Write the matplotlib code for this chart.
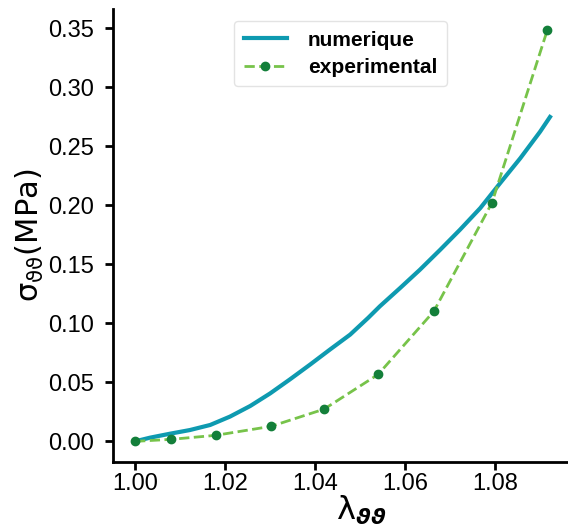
import matplotlib
matplotlib.use('Agg')
import matplotlib.pyplot as plt

# numerical curve
lam_num = [1.0000, 1.0033, 1.0078, 1.0122, 1.0167, 1.0211, 1.0256, 1.0300, 1.0344,
           1.0389, 1.0433, 1.0478, 1.0518, 1.0544, 1.0589, 1.0633, 1.0678, 1.0722,
           1.0767, 1.0811, 1.0856, 1.0900, 1.0922]
sig_num = [0.0, 0.0031, 0.0065, 0.0096, 0.0139, 0.0210, 0.0300, 0.0406, 0.0525,
           0.0651, 0.0778, 0.0905, 0.1047, 0.1145, 0.1300, 0.1455, 0.1624, 0.1794,
           0.1977, 0.2188, 0.2400, 0.2625, 0.2750]

# experimental points
lam_exp = [1.000, 1.0080, 1.0179, 1.0302, 1.0420, 1.0540, 1.0664, 1.0793, 1.0916]
sig_exp = [0.0, 0.0017, 0.0051, 0.0127, 0.0273, 0.0567, 0.1103, 0.2022, 0.3486]

xticks = [1.00, 1.02, 1.04, 1.06, 1.08]
yticks = [0.00, 0.05, 0.10, 0.15, 0.20, 0.25, 0.30, 0.35]

plt.rcParams['font.family'] = ['Liberation Sans', 'DejaVu Sans']
plt.rcParams['mathtext.fontset'] = 'dejavusans'

fig = plt.figure(figsize=(5.68, 5.30), dpi=100)
ax = fig.add_axes([113 / 568, 1 - 462 / 530, 455 / 568, 453 / 530])

ax.plot(lam_num, sig_num, color='#0e9ab0', lw=3, label='numerique')
ax.plot(lam_exp, sig_exp, color='#77c34a', lw=2, ls='--', marker='o',
        markersize=6, markerfacecolor='#137f3a', markeredgecolor='#137f3a',
        label='experimental')

ax.set_xlim(0.9951, 1.0962)
ax.set_ylim(-0.0175, 0.3665)
ax.set_xticks(xticks)
ax.set_xticklabels([f'{t:.2f}' for t in xticks])
ax.set_yticks(yticks)
ax.set_yticklabels([f'{t:.2f}' for t in yticks])

for s in ['top', 'right']:
    ax.spines[s].set_visible(False)
for s in ['left', 'bottom']:
    ax.spines[s].set_linewidth(2)
ax.tick_params(direction='out', length=6, width=2, labelsize=17)
ax.tick_params(axis='x', pad=2)
ax.tick_params(axis='y', pad=8)

ax.set_xlabel(r'$\mathrm{\lambda}_{\mathbfit{\vartheta\vartheta}}$', fontsize=23)
ax.xaxis.set_label_coords(0.545, -0.07)
ax.set_ylabel(r'$\mathrm{\sigma}_{\mathrm{\vartheta\vartheta}}$(MPa)', fontsize=22,
              family='DejaVu Sans')
ax.yaxis.set_label_coords(-0.148, 0.5)

leg = ax.legend(loc='upper center', bbox_to_anchor=(0.5, 0.987),
                prop={'family': 'Liberation Sans', 'weight': 'bold', 'size': 15},
                handlelength=2.1, borderpad=0.45, labelspacing=0.4,
                handletextpad=1.0, borderaxespad=0.3)
leg.get_frame().set_edgecolor('#dddddd')

fig.savefig('out.png', dpi=100)
